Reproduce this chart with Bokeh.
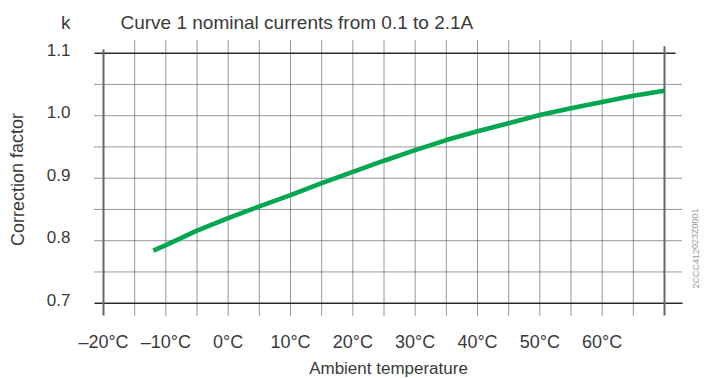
from bokeh.plotting import figure
from bokeh.models import Range1d, Label
from bokeh.core.properties import value
from bokeh.embed import file_html
from bokeh.resources import INLINE

# ---- data ----
temps = [-12, -10, -5, 0, 5, 10, 15, 20, 25, 30, 35, 40, 45, 50, 55, 60, 65, 70]
k_vals = [0.784, 0.793, 0.816, 0.836, 0.855, 0.873, 0.892, 0.910, 0.928, 0.945,
          0.961, 0.975, 0.988, 1.001, 1.012, 1.022, 1.032, 1.040]
x_ticks = [-20, -10, 0, 10, 20, 30, 40, 50, 60]
x_tick_labels = ["\u201320\u00b0C", "\u201310\u00b0C", "0\u00b0C", "10\u00b0C", "20\u00b0C",
                 "30\u00b0C", "40\u00b0C", "50\u00b0C", "60\u00b0C"]
y_ticks = [0.7, 0.8, 0.9, 1.0, 1.1]
y_tick_labels = ["0.7", "0.8", "0.9", "1.0", "1.1"]
x_grid = [-15, -10, -5, 0, 5, 10, 15, 20, 25, 30, 35, 40, 45, 50, 55, 60, 65]
y_grid = [0.75, 0.8, 0.85, 0.9, 0.95, 1.0, 1.05]
t_min, t_max = -20, 70
k_min, k_max = 0.7, 1.1
title_text = "Curve 1 nominal currents from 0.1 to 2.1A"
k_text = "k"
x_label = "Ambient temperature"
y_label = "Correction factor"
code_text = "2CCC412023Z0001"

# ---- layout: the plot frame fills the whole canvas; pixel -> data mapping ----
FONT = "Liberation Sans"
TXT = "#3a3a3a"
W, H = 705, 378
px_tmin, px_tmax = 103.0, 664.0
py_kmax, py_kmin = 52.7, 302.7
sx = (px_tmax - px_tmin) / (t_max - t_min)
sy = (py_kmin - py_kmax) / (k_max - k_min)


def dx(px):
    return t_min + (px - px_tmin) / sx


def dy(py):
    return k_max - (py - py_kmax) / sy


p = figure(width=W, height=H, output_backend="svg", toolbar_location=None,
           x_range=Range1d(dx(0), dx(W)), y_range=Range1d(dy(H), dy(0)),
           x_axis_location=None, y_axis_location=None,
           min_border=0, min_border_left=0, min_border_right=0,
           min_border_top=0, min_border_bottom=0)
p.outline_line_color = None
p.background_fill_color = "white"
p.border_fill_color = "white"
p.xgrid.visible = False
p.ygrid.visible = False

y_bot = dy(315)      # lower end of the vertical rules
x_left = dx(94)      # left end of the horizontal rules
x_right = dx(682)    # right end of the dotted rules

# dotted grid
GRID = "#333333"
p.segment(x0=x_grid, y0=[y_bot] * len(x_grid), x1=x_grid, y1=[dy(40)] * len(x_grid),
          line_color=GRID, line_width=1, line_dash="1 1")
p.segment(x0=[x_left] * len(y_grid), y0=y_grid, x1=[x_right] * len(y_grid), y1=y_grid,
          line_color=GRID, line_width=1, line_dash="1 1")

# solid frame rules
p.segment(x0=[x_left, x_left], y0=[k_max, k_min],
          x1=[dx(675), x_right], y1=[k_max, k_min],
          line_color="#2a2a2a", line_width=1.4)
p.segment(x0=[t_min, t_max], y0=[y_bot, y_bot],
          x1=[t_min, t_max], y1=[dy(49), dy(45.7)],
          line_color="#666666", line_width=2)

# curve
p.line(temps, k_vals, line_color="#00a650", line_width=4.6)

# tick labels (positioned through the scales)
p.text(x=x_ticks, y=[dy(341.5)] * len(x_ticks), text=x_tick_labels,
       text_align="center", text_baseline="middle", text_font=value(FONT),
       text_font_size="18px", text_color=TXT)
lab_shift = 3.3 / sy
p.text(x=[dx(70)] * len(y_ticks), y=[v + lab_shift for v in y_ticks], text=y_tick_labels,
       text_align="right", text_baseline="middle", text_font=value(FONT),
       text_font_size="17px", text_color=TXT)

# titles / axis titles
p.add_layout(Label(x=dx(70), y=dy(22), text=k_text, text_align="right",
                   text_baseline="middle", text_font=FONT,
                   text_font_size="19px", text_color=TXT))
p.add_layout(Label(x=dx(120), y=dy(22), text=title_text, text_align="left",
                   text_baseline="middle", text_font=FONT,
                   text_font_size="19px", text_color=TXT))
p.add_layout(Label(x=dx(388), y=dy(367.5), text=x_label, text_align="center",
                   text_baseline="middle", text_font=FONT,
                   text_font_size="17px", text_color=TXT))
p.add_layout(Label(x=dx(17), y=dy(179), text=y_label, text_align="center",
                   text_baseline="middle", angle=1.5708, text_font=FONT,
                   text_font_size="18px", text_color=TXT))
p.add_layout(Label(x=dx(695), y=dy(248), text=code_text, text_align="center",
                   text_baseline="middle", angle=1.5708, text_font=FONT,
                   text_font_size="9px", text_color="#9a9a9a"))

open("out.html", "w").write(file_html(p, INLINE))
